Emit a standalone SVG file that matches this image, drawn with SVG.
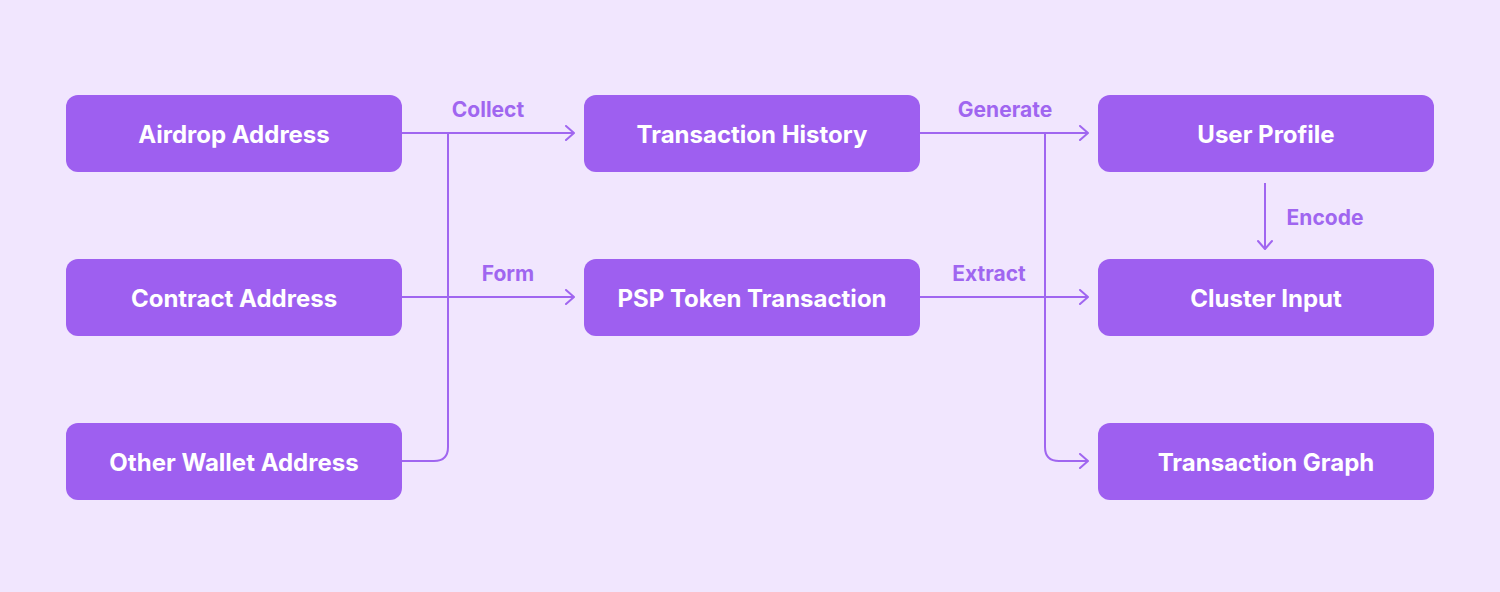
<svg xmlns="http://www.w3.org/2000/svg" width="1500" height="592" viewBox="0 0 1500 592">
<defs>
<style>
.node rect{fill:#9E5FF0;}
.node text{fill:#FFFFFF;font-family:Inter,"Noto Sans",sans-serif;font-weight:700;font-size:24px;text-anchor:middle;dominant-baseline:central;}
.conn path{fill:none;stroke:#A066F0;stroke-width:2;}
.lbl{fill:#A066F0;font-family:Inter,"Noto Sans",sans-serif;font-weight:700;font-size:21px;text-anchor:middle;dominant-baseline:central;}
</style>
<marker id="arr" viewBox="0 0 12 16" refX="11" refY="8" markerWidth="12" markerHeight="16" markerUnits="userSpaceOnUse" orient="auto">
<path d="M3,1 L11,8 L3,15" fill="none" stroke="#A066F0" stroke-width="2" stroke-linecap="round" stroke-linejoin="round"/>
</marker>
</defs>
<rect width="1500" height="592" fill="#F1E6FE"/>
<g id="connectors" class="conn">
<path d="M402,133 H574" marker-end="url(#arr)"/>
<path d="M448,133 V447 Q448,461 434,461 H402"/>
<path d="M402,297 H574" marker-end="url(#arr)"/>
<path d="M920,133 H1088" marker-end="url(#arr)"/>
<path d="M1045,133 V447 Q1045,461 1059,461 H1088" marker-end="url(#arr)"/>
<path d="M920,297 H1088" marker-end="url(#arr)"/>
<path d="M1265,183 V249" marker-end="url(#arr)"/>
<text class="lbl" x="488" y="109">Collect</text>
<text class="lbl" x="508" y="273">Form</text>
<text class="lbl" x="1005" y="109">Generate</text>
<text class="lbl" x="989" y="273">Extract</text>
<text class="lbl" x="1325" y="217">Encode</text>
</g>
<g id="airdrop" class="node"><rect x="66" y="95" width="336" height="77" rx="12"/><text x="234" y="134">Airdrop Address</text></g>
<g id="contract" class="node"><rect x="66" y="259" width="336" height="77" rx="12"/><text x="234" y="298">Contract Address</text></g>
<g id="otherwallet" class="node"><rect x="66" y="423" width="336" height="77" rx="12"/><text x="234" y="462">Other Wallet Address</text></g>
<g id="txhistory" class="node"><rect x="584" y="95" width="336" height="77" rx="12"/><text x="752" y="134">Transaction History</text></g>
<g id="psp" class="node"><rect x="584" y="259" width="336" height="77" rx="12"/><text x="752" y="298">PSP Token Transaction</text></g>
<g id="userprofile" class="node"><rect x="1098" y="95" width="336" height="77" rx="12"/><text x="1266" y="134">User Profile</text></g>
<g id="clusterinput" class="node"><rect x="1098" y="259" width="336" height="77" rx="12"/><text x="1266" y="298">Cluster Input</text></g>
<g id="txgraph" class="node"><rect x="1098" y="423" width="336" height="77" rx="12"/><text x="1266" y="462">Transaction Graph</text></g>
</svg>
